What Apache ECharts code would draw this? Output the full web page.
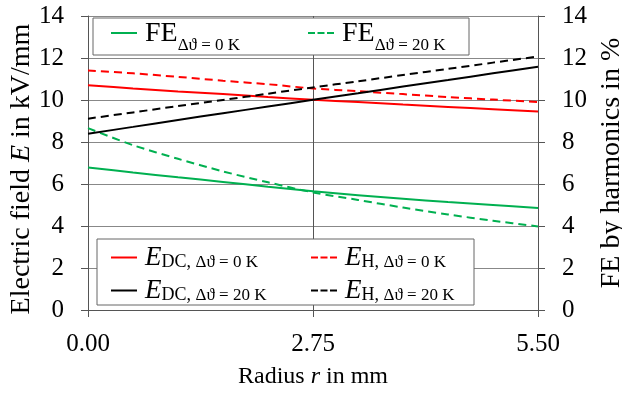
<!DOCTYPE html>
<html>
<head>
<meta charset="utf-8">
<script src="https://cdn.jsdelivr.net/npm/echarts@6/dist/echarts.min.js"></script>
<style>
  html, body { margin: 0; padding: 0; background: #fff; }
  #chart { width: 622px; height: 394px; }
</style>
</head>
<body>
<div id="chart"></div>
<script>
// radius in mm
const radius = [0, 0.55, 1.1, 1.65, 2.2, 2.75, 3.3, 3.85, 4.4, 4.95, 5.5];

// field strength in kV/mm (left axis)
const eDc0 = [10.70, 10.55, 10.41, 10.28, 10.14, 10.01, 9.90, 9.78, 9.67, 9.56, 9.45];
const eH0 = [11.40, 11.27, 11.10, 10.92, 10.75, 10.55, 10.42, 10.28, 10.14, 10.02, 9.90];
const eDc20 = [8.39, 8.72, 9.05, 9.37, 9.69, 10.01, 10.32, 10.64, 10.95, 11.27, 11.58];
const eH20 = [9.11, 9.41, 9.71, 10.00, 10.30, 10.60, 10.89, 11.19, 11.48, 11.78, 12.07];

// FE by harmonics in % (right axis)
const fe0 = [6.79, 6.55, 6.32, 6.10, 5.87, 5.65, 5.47, 5.30, 5.14, 5.00, 4.86];
const fe20 = [8.66, 7.85, 7.20, 6.60, 6.08, 5.60, 5.24, 4.88, 4.55, 4.25, 3.98];

const xTicks = [0, 2.75, 5.5];

const GREEN = '#00b050';
const RED = '#ff0000';
const BLACK = '#000000';
const FONT = '"Liberation Serif", "Times New Roman", serif';

const SOLID_ICON = 'path://M0,0h26v2h-26z';
const DASH_ICON = 'path://M0,0h7v2h-7zM9.5,0h7v2h-7zM19,0h7v2h-7z';

const pairs = (ys) => radius.map((r, i) => [r, ys[i]]);

// top legend: big FE, subscript dropped well below
const richTop = {
  m: { fontFamily: FONT, fontSize: 28, lineHeight: 28, color: '#000', verticalAlign: 'top' },
  s: { fontFamily: FONT, fontSize: 17, lineHeight: 17, color: '#000', padding: [17, 0, 0, 0], verticalAlign: 'top' }
};
// bottom legend: italic E, subscripts almost on the baseline
const richBottom = {
  i: { fontFamily: FONT, fontSize: 27, lineHeight: 27, color: '#000', fontStyle: 'italic', verticalAlign: 'top' },
  d: { fontFamily: FONT, fontSize: 18, lineHeight: 18, color: '#000', padding: [9, 0, 0, 0], verticalAlign: 'top' },
  s: { fontFamily: FONT, fontSize: 17, lineHeight: 17, color: '#000', padding: [10, 0, 0, 0], verticalAlign: 'top' }
};

const labels = {
  'FE0': '{m|FE}{s|Δϑ = 0 K}',
  'FE20': '{m|FE}{s|Δϑ = 20 K}',
  'EDC0': '{i|E}{d|DC, }{s|Δϑ = 0 K}',
  'EH0': '{i|E}{d|H, }{s|Δϑ = 0 K}',
  'EDC20': '{i|E}{d|DC, }{s|Δϑ = 20 K}',
  'EH20': '{i|E}{d|H, }{s|Δϑ = 20 K}'
};

function oneLegend(name, dashed, left, top, rich, pad) {
  return {
    data: [{ name: name, icon: dashed ? DASH_ICON : SOLID_ICON }],
    left: left,
    top: top,
    padding: 0,
    itemWidth: 26,
    itemHeight: 2,
    itemGap: 0,
    selectedMode: false,
    formatter: (n) => labels[n],
    textStyle: { rich: rich, padding: pad }
  };
}

function lineSeries(name, ys, color, dashed, axis) {
  return {
    name: name,
    type: 'line',
    yAxisIndex: axis,
    data: pairs(ys),
    symbol: 'none',
    smooth: 0.3,
    lineStyle: { color: color, width: 2, type: dashed ? [8, 5] : 'solid' },
    itemStyle: { color: color },
    z: 2
  };
}

const chart = echarts.init(document.getElementById('chart'));

const options = {
  animation: false,
  backgroundColor: '#fff',
  grid: { left: 88, right: 84, top: 16, bottom: 84, containLabel: false, outerBoundsMode: 'none' },
  xAxis: {
    type: 'value',
    min: 0,
    max: 5.5,
    interval: 2.75,
    name: '{n|Radius }{it|r}{n| in mm}',
    nameLocation: 'middle',
    nameGap: 55,
    nameMoveOverlap: false,
    nameTextStyle: {
      rich: {
        n: { fontFamily: FONT, fontSize: 24, color: '#000' },
        it: { fontFamily: FONT, fontSize: 24, color: '#000', fontStyle: 'italic' }
      }
    },
    axisLine: { show: true, lineStyle: { color: '#555', width: 1 } },
    axisTick: { show: true, length: 7, lineStyle: { color: '#555' } },
    axisLabel: {
      margin: 22,
      fontFamily: FONT,
      fontSize: 25,
      color: '#000',
      formatter: (v) => xTicks.includes(v) ? v.toFixed(2) : ''
    },
    splitLine: { show: true, lineStyle: { color: '#555', width: 1 } }
  },
  yAxis: [
    {
      type: 'value',
      min: 0,
      max: 14,
      interval: 2,
      name: '{n|Electric field }{it|E}{n| in kV/mm}',
      nameLocation: 'middle',
      nameGap: 52,
      nameMoveOverlap: false,
      nameTextStyle: {
        padding: [0, 12, 0, 0],
        rich: {
          n: { fontFamily: FONT, fontSize: 28, color: '#000' },
          it: { fontFamily: FONT, fontSize: 28, color: '#000', fontStyle: 'italic' }
        }
      },
      axisLine: { show: true, lineStyle: { color: '#555', width: 1 } },
      axisTick: { show: true, length: 7, lineStyle: { color: '#555' } },
      axisLabel: { margin: 24, fontFamily: FONT, fontSize: 25, color: '#000' },
      splitLine: { show: true, lineStyle: { color: '#888', width: 1 } }
    },
    {
      type: 'value',
      position: 'right',
      min: 0,
      max: 14,
      interval: 2,
      name: 'FE by harmonics in %',
      nameLocation: 'middle',
      nameGap: 56,
      nameRotate: 90,
      nameTextStyle: { fontFamily: FONT, fontSize: 28, color: '#000' },
      axisLine: { show: true, lineStyle: { color: '#555', width: 1 } },
      axisTick: { show: true, length: 7, lineStyle: { color: '#555' } },
      axisLabel: { margin: 24, fontFamily: FONT, fontSize: 25, color: '#000' },
      splitLine: { show: false }
    }
  ],
  legend: [
    oneLegend('FE0', false, 111, 20, richTop, [2, 0, 0, 3]),
    oneLegend('FE20', true, 308, 20, richTop, [2, 0, 0, 3]),
    oneLegend('EDC0', false, 111, 244, richBottom, [0, 0, 0, 3]),
    oneLegend('EH0', true, 311, 244, richBottom, [0, 0, 0, 3]),
    oneLegend('EDC20', false, 111, 277, richBottom, [0, 0, 0, 3]),
    oneLegend('EH20', true, 311, 277, richBottom, [0, 0, 0, 3])
  ],
  graphic: [
    {
      type: 'rect',
      z: 3,
      shape: { x: 93, y: 18, width: 376, height: 37 },
      style: { fill: '#fff', stroke: '#666', lineWidth: 1 }
    },
    {
      type: 'rect',
      z: 3,
      shape: { x: 97, y: 239, width: 377, height: 66 },
      style: { fill: '#fff', stroke: '#666', lineWidth: 1 }
    }
  ],
  series: [
    lineSeries('FE0', fe0, GREEN, false, 1),
    lineSeries('FE20', fe20, GREEN, true, 1),
    lineSeries('EDC0', eDc0, RED, false, 0),
    lineSeries('EH0', eH0, RED, true, 0),
    lineSeries('EDC20', eDc20, BLACK, false, 0),
    lineSeries('EH20', eH20, BLACK, true, 0)
  ]
};

chart.setOption(options);
</script>
</body>
</html>
